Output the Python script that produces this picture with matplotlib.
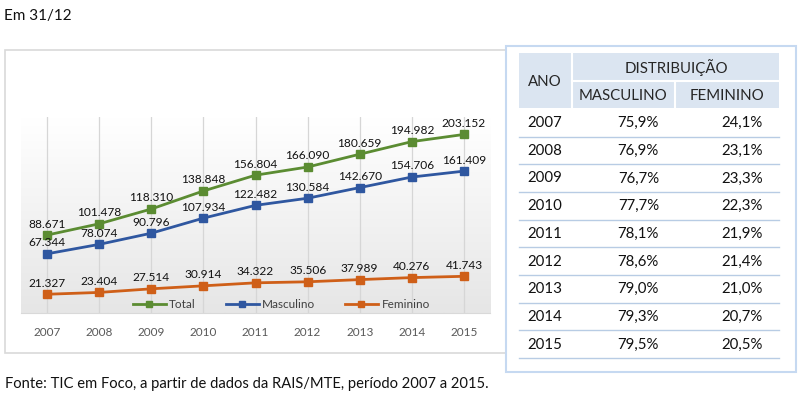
import matplotlib.pyplot as plt
import numpy as np
from matplotlib.patches import Rectangle
from matplotlib.lines import Line2D
from matplotlib.colors import LinearSegmentedColormap

plt.rcParams['font.family'] = ['Lato', 'DejaVu Sans']

# -----------------------------
# Data
# -----------------------------
years = [2007, 2008, 2009, 2010, 2011, 2012, 2013, 2014, 2015]
total = [88.671, 101.478, 118.310, 138.848, 156.804, 166.090, 180.659, 194.982, 203.152]
masculino = [67.344, 78.074, 90.796, 107.934, 122.482, 130.584, 142.670, 154.706, 161.409]
feminino = [21.327, 23.404, 27.514, 30.914, 34.322, 35.506, 37.989, 40.276, 41.743]

pct_masc = ["75,9%", "76,9%", "76,7%", "77,7%", "78,1%", "78,6%", "79,0%", "79,3%", "79,5%"]
pct_fem = ["24,1%", "23,1%", "23,3%", "22,3%", "21,9%", "21,4%", "21,0%", "20,7%", "20,5%"]

GREEN = "#5b8c32"
BLUE = "#2f57a0"
ORANGE = "#cf5f18"
TXT = "#111111"
W, H = 800, 398


def fx(x):
    return x / W


def fy(y):
    return 1 - y / H


def fmt(v):
    return f"{v:.3f}"


fig = plt.figure(figsize=(8, 3.98), dpi=100)

# outer texts
fig.text(fx(4), fy(16), "Em 31/12", fontsize=11, color=TXT, va="center", ha="left")
fig.text(fx(5), fy(384), "Fonte: TIC em Foco, a partir de dados da RAIS/MTE, período 2007 a 2015.",
         fontsize=10.6, color=TXT, va="center", ha="left")

# chart frame
fig.patches.append(Rectangle((fx(5), fy(353)), fx(501), (353 - 50) / H, transform=fig.transFigure,
                             fill=False, edgecolor="#d9d9d9", linewidth=1.2, zorder=0))

# -----------------------------
# Line chart
# -----------------------------
ax = fig.add_axes([fx(21), fy(313), fx(469), (313 - 117) / H])
x = np.arange(len(years))

grad = np.linspace(0, 1, 100).reshape(-1, 1)
cmap = LinearSegmentedColormap.from_list("g", ["#ffffff", "#e6e6e6"])
ax.imshow(grad, extent=[0, 1, 0, 1], origin="upper", transform=ax.transAxes, cmap=cmap,
          aspect="auto", zorder=0)

for xi in x:
    ax.axvline(xi, color="#d6d6d6", linewidth=0.9, zorder=1)

series = [(total, GREEN, "Total"), (masculino, BLUE, "Masculino"), (feminino, ORANGE, "Feminino")]
for vals, col, lab in series:
    ax.plot(x, vals, color=col, linewidth=2, marker="s", markersize=6, label=lab, zorder=3)
    for xi, v in zip(x, vals):
        ax.annotate(fmt(v), (xi, v), xytext=(0, 4), textcoords="offset points",
                    ha="center", va="bottom", fontsize=8.6, color=TXT, zorder=4)

ax.set_xlim(-0.5, len(years) - 0.5)
ax.set_ylim(0, 223)
ax.set_yticks([])
ax.set_xticks(x)
ax.set_xticklabels([str(y) for y in years], fontsize=8.5, color="#595959")
ax.tick_params(axis="x", length=0, pad=10)
for s in ["top", "right", "left"]:
    ax.spines[s].set_visible(False)
ax.spines["bottom"].set_color("#d9d9d9")

handles = [Line2D([0], [0], color=c, linewidth=2, marker="s", markersize=5) for _, c, _ in series]
ax.legend(handles, [l for _, _, l in series], loc="center", bbox_to_anchor=(0.555, 0.045), ncol=3,
          frameon=False, fontsize=8.5, handlelength=2.8, columnspacing=2.5, handletextpad=0.3,
          labelcolor="#404040")

# -----------------------------
# Table panel
# -----------------------------
fig.patches.append(Rectangle((fx(506), fy(372)), fx(290), (372 - 46) / H, transform=fig.transFigure,
                             facecolor="white", edgecolor="#c6d9f1", linewidth=1.5, zorder=1))
HDR = "#dbe5f1"
fig.patches.append(Rectangle((fx(519), fy(108)), fx(260), (108 - 53) / H, transform=fig.transFigure,
                             facecolor=HDR, edgecolor="none", zorder=2))
# white separators in header
fig.add_artist(Line2D([fx(572), fx(572)], [fy(53), fy(108)], color="white", linewidth=1.5, zorder=3))
fig.add_artist(Line2D([fx(572), fx(779)], [fy(81), fy(81)], color="white", linewidth=1.5, zorder=3))
fig.add_artist(Line2D([fx(675), fx(675)], [fy(81), fy(108)], color="white", linewidth=1.5, zorder=3))

hfs = 10.8
fig.text(fx(545), fy(82), "ANO", fontsize=hfs, color="#262626", ha="center", va="center", zorder=4)
fig.text(fx(676), fy(68), "DISTRIBUIÇÃO", fontsize=hfs, color="#262626", ha="center", va="center", zorder=4)
fig.text(fx(623), fy(96), "MASCULINO", fontsize=hfs, color="#262626", ha="center", va="center", zorder=4)
fig.text(fx(727), fy(96), "FEMININO", fontsize=hfs, color="#262626", ha="center", va="center", zorder=4)

bfs = 10.8
row_h = 27.7
for i, (yr, m, f) in enumerate(zip(years, pct_masc, pct_fem)):
    yc = 123 + i * row_h
    fig.text(fx(527), fy(yc), str(yr), fontsize=bfs, color=TXT, ha="left", va="center", zorder=4)
    fig.text(fx(659), fy(yc), m, fontsize=bfs, color=TXT, ha="right", va="center", zorder=4)
    fig.text(fx(763), fy(yc), f, fontsize=bfs, color=TXT, ha="right", va="center", zorder=4)
    yl = yc + 13.5
    fig.add_artist(Line2D([fx(519), fx(779)], [fy(yl), fy(yl)], color="#b8cce4", linewidth=1, zorder=3))

fig.savefig("out.png", dpi=100)
